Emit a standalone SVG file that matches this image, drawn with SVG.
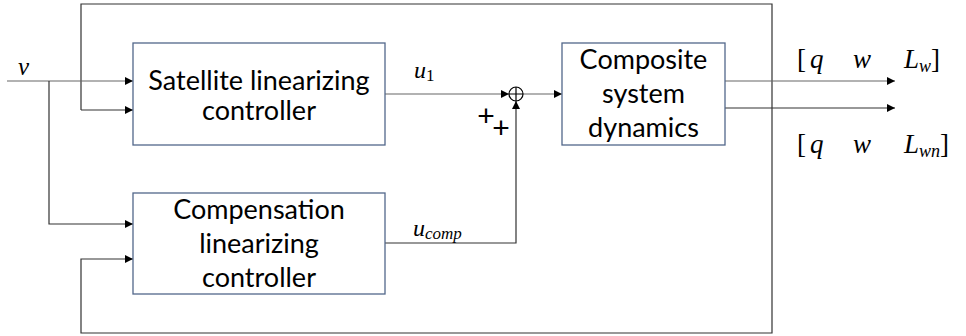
<svg xmlns="http://www.w3.org/2000/svg" width="966" height="336" viewBox="0 0 966 336">
<style>
.box{fill:#fff;stroke:#52678a;stroke-width:1.3}
.lbl{font-family:Lato,"Open Sans",sans-serif;font-size:27px;fill:#000;text-anchor:middle}
.math{font-family:"Liberation Serif",serif;font-style:italic;fill:#000}
.ln{fill:none;stroke:#333;stroke-width:1.2}
.lg{fill:none;stroke:#666;stroke-width:1.2}
.pl{font-family:"Liberation Sans",sans-serif;font-size:30px;fill:#000;text-anchor:middle}
</style>
<defs>
<marker id="ah" viewBox="0 0 8 8" refX="8" refY="4" markerWidth="8" markerHeight="8" markerUnits="userSpaceOnUse" orient="auto">
<path d="M0,0 L8,4 L0,8 Z" fill="#000"/>
</marker>
</defs>
<g id="connectors">
<path class="ln" d="M81,110 V4 H772 V333 H81 V259 H133" marker-end="url(#ah)"/>
<path class="ln" d="M81,110 H133" marker-end="url(#ah)"/>
<path class="lg" d="M7,81 H133" marker-end="url(#ah)"/>
<path class="ln" d="M49,81 V224 H133" marker-end="url(#ah)"/>
<path class="lg" d="M385,94 H509" marker-end="url(#ah)"/>
<path class="ln" d="M385,243 H516 V101" marker-end="url(#ah)"/>
<path class="lg" d="M523,94 H562" marker-end="url(#ah)"/>
<path class="lg" d="M725,81 H895" marker-end="url(#ah)"/>
<path class="ln" d="M725,108 H895" marker-end="url(#ah)"/>
</g>
<g id="satellite">
<rect class="box" x="133" y="43" width="252" height="102"/>
<text class="lbl" x="259" y="90">Satellite linearizing</text>
<text class="lbl" x="259" y="120">controller</text>
</g>
<g id="compensation">
<rect class="box" x="133" y="193" width="252" height="101"/>
<text class="lbl" x="259" y="219">Compensation</text>
<text class="lbl" x="259" y="253">linearizing</text>
<text class="lbl" x="259" y="287">controller</text>
</g>
<g id="composite">
<rect class="box" x="562" y="43" width="163" height="102"/>
<text class="lbl" x="643.5" y="69">Composite</text>
<text class="lbl" x="643.5" y="103">system</text>
<text class="lbl" x="643.5" y="137">dynamics</text>
</g>
<g id="sum">
<circle cx="516" cy="94" r="7" fill="#fff" stroke="#000" stroke-width="1.2"/>
<path d="M509,94 H523 M516,87 V101" stroke="#000" stroke-width="1.2"/>
<text class="pl" x="486" y="126">+</text>
<text class="pl" x="501" y="138">+</text>
</g>
<g id="labels">
<text class="math" x="18" y="75" font-size="25">v</text>
<text class="math" x="414" y="78" font-size="24">u<tspan font-style="normal" font-size="17" dy="3">1</tspan></text>
<text class="math" x="413" y="236" font-size="24">u<tspan font-size="17" dy="3">comp</tspan></text>
<text class="math" x="797" y="68" font-size="27"><tspan font-style="normal">[</tspan><tspan x="810">q</tspan><tspan x="853">w</tspan><tspan x="904">L</tspan><tspan font-size="18" dy="4">w</tspan><tspan font-style="normal" dy="-4">]</tspan></text>
<text class="math" x="797" y="153" font-size="27"><tspan font-style="normal">[</tspan><tspan x="810">q</tspan><tspan x="853">w</tspan><tspan x="904">L</tspan><tspan font-size="18" dy="4">wn</tspan><tspan font-style="normal" dy="-4">]</tspan></text>
</g>
</svg>
